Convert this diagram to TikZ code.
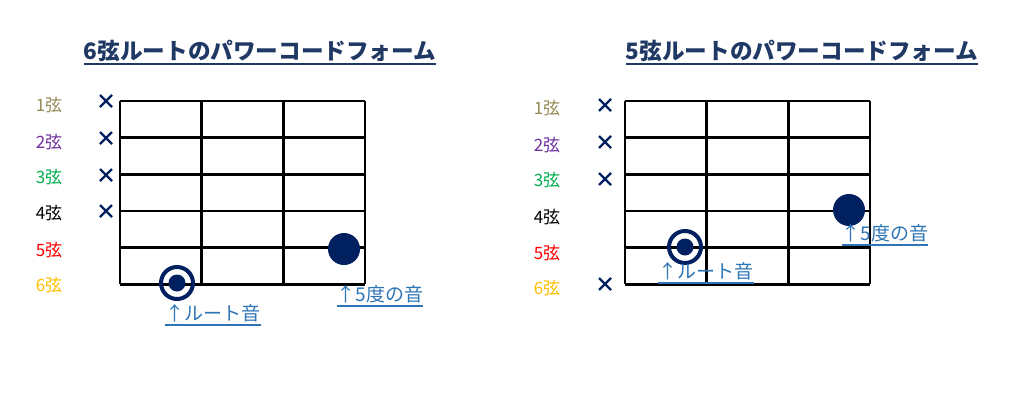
\documentclass[tikz,border=0pt]{standalone}
\usepackage{fontspec}
\setmainfont{Noto Sans CJK JP}
\usepackage{tikz}
\definecolor{S1}{RGB}{148,138,84}
\definecolor{S2}{RGB}{112,48,160}
\definecolor{S3}{RGB}{0,176,80}
\definecolor{S4}{RGB}{0,0,0}
\definecolor{S5}{RGB}{255,0,0}
\definecolor{S6}{RGB}{255,192,0}
\definecolor{navy}{RGB}{0,32,96}
\definecolor{titleblue}{RGB}{31,56,100}
\definecolor{noteblue}{RGB}{46,117,182}
\newcommand{\drawfretboard}[2]{
    \foreach \i in {0,...,3}{
    \draw[fret] (#1+\i*81.67,#2)--++(0,183.3);
    }
    \foreach \j in {0,...,5}{
      \draw[fret] (#1,#2+\j*36.67)--++(245,0);
    }
}
\newcommand{\mutemark}[2]{\draw[mute] (#1-6,#2-6)--(#1+6,#2+6) (#1-6,#2+6)--(#1+6,#2-6);}
\newcommand{\rootnote}[2]{\draw[navy,line width=4pt] (#1,#2) circle (16pt); \fill[navy] (#1,#2) circle (8.5pt);}
\newcommand{\fifthnote}[2]{\fill[navy] (#1,#2) circle (16pt);}
\newcommand{\underlinenode}[2]{\draw[#1,line width=1.5pt] ([yshift=-5pt]#2.base west)--([yshift=-5pt]#2.base east);}
\tikzset{
  fret/.style={line width=2.5pt},
  mute/.style={navy,line width=2.2pt},
  strlabel/.style={font=\fontsize{17}{20}\selectfont,inner sep=0pt},
  title/.style={titleblue,font=\bfseries\fontsize{22.6}{26}\selectfont,inner sep=0pt,anchor=base},
  note/.style={noteblue,font=\fontsize{19}{22}\selectfont,inner sep=0pt,anchor=base}
}

\begin{document}
\begin{tikzpicture}[x=1pt,y=-1pt]
\fill[white] (0,0) rectangle (1024,415);
\useasboundingbox (0,0) rectangle (1024,415);
% 6th string root
\node[title] (t6) at (260,59) {6弦ルートのパワーコードフォーム};\underlinenode{titleblue}{t6}
\foreach \n/\y in {1/105,2/142,3/177,4/213,5/250,6/285}{
  \node[strlabel,S\n] (a\n) at (49,\y) {\n{}弦};
}
\drawfretboard{120}{101}
\foreach \y in {101,138,175,211}{\mutemark{106}{\y}}
\rootnote{177}{283}\fifthnote{344}{249}
\node[note] (ra) at (213,320) {↑ルート音};\underlinenode{noteblue}{ra}
\node[note] (fa) at (380,301) {↑5度の音};\underlinenode{noteblue}{fa}
% 5th string root
\node[title] (t5) at (802,59) {5弦ルートのパワーコードフォーム};\underlinenode{titleblue}{t5}
\foreach \n/\y in {1/108,2/145,3/180,4/217,5/253,6/288}{
  \node[strlabel,S\n] (b\n) at (547,\y) {\n{}弦};
}
\drawfretboard{625}{101}
\foreach \y in {105,142,179,284}{\mutemark{605}{\y}}
\rootnote{685}{247}\fifthnote{849}{210}
\node[note] (rb) at (706,278) {↑ルート音};\underlinenode{noteblue}{rb}
\node[note] (fb) at (885,240) {↑5度の音};\underlinenode{noteblue}{fb}
\end{tikzpicture}
\end{document}
